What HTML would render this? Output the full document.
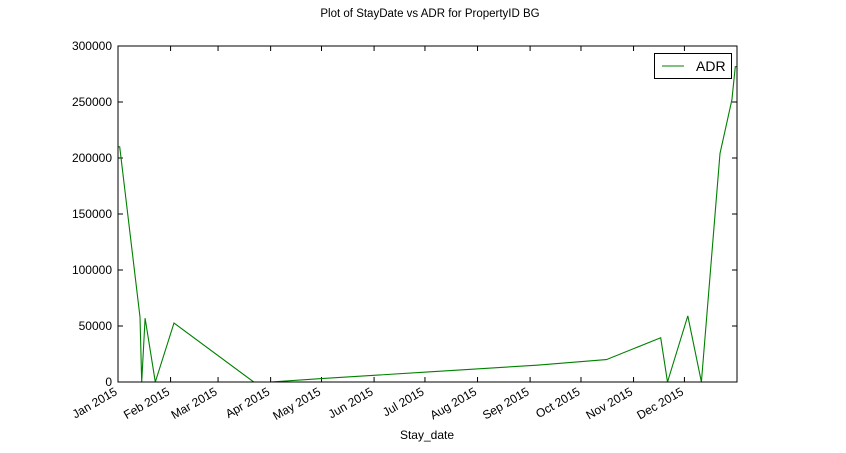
<!DOCTYPE html>
<html><head><meta charset="utf-8"><style>
body{margin:0;background:#fff;}
svg{font-family:"Liberation Sans",sans-serif;display:block}
</style></head><body>
<svg id="chart" width="846" height="453">
<text x="430" y="17" font-size="11.5" text-anchor="middle">Plot of StayDate vs ADR for PropertyID BG</text>
<text x="427" y="439" font-size="12" text-anchor="middle">Stay_date</text>
<g id="axes"></g>
<path id="line" fill="none" stroke="#008000" stroke-width="1.1"></path>
<rect x="118" y="46" width="619" height="336" fill="none" stroke="#000" stroke-width="1"></rect>
<g>
<rect x="654.5" y="53.5" width="77" height="25" fill="#fff" stroke="#000"></rect>
<line x1="662" y1="66" x2="684" y2="66" stroke="#008000" stroke-width="1.1"></line>
<text x="696" y="71" font-size="14">ADR</text>
</g>
</svg>
<script>
const dates = ["2015-01-01","2015-01-02","2015-01-14","2015-01-15","2015-01-17","2015-01-23","2015-02-03","2015-03-22","2015-04-01","2015-05-01","2015-07-03","2015-09-05","2015-10-16","2015-11-17","2015-11-21","2015-12-03","2015-12-11","2015-12-22","2015-12-29","2015-12-31","2016-01-01"];
const adr = [210000,210000,58000,0,57000,0,52700,0,0,3000,9000,15000,20000,39500,0,59000,0,204000,252000,281500,281500];
const yTicks = [0,50000,100000,150000,200000,250000,300000];
const xTickLabels = ["Jan 2015","Feb 2015","Mar 2015","Apr 2015","May 2015","Jun 2015","Jul 2015","Aug 2015","Sep 2015","Oct 2015","Nov 2015","Dec 2015"];
const t0 = Date.UTC(2015,0,1), t1 = Date.UTC(2016,0,1);
const L=118,R=737,T=46,B=382;
function xs(d){const t=Date.parse(d+"T00:00:00Z");return L+(t-t0)/(t1-t0)*(R-L);}
function ys(v){return B-v/300000*(B-T);}
const ns="http://www.w3.org/2000/svg";
const g=document.getElementById('axes');
function mk(tag,attrs){const e=document.createElementNS(ns,tag);for(const k in attrs)e.setAttribute(k,attrs[k]);g.appendChild(e);return e;}
yTicks.forEach(v=>{
  const y=ys(v);
  const a=mk('line',{x1:L,x2:L+5,y1:y,y2:y,stroke:'#000'});
  
  
  const b=mk('line',{x1:R-5,x2:R,y1:y,y2:y,stroke:'#000'});
  
  
  const t=mk('text',{x:L-6,y:y+4,'font-size':12,'text-anchor':'end'});
  t.textContent=v;
  
  
});
xTickLabels.forEach((lab,i)=>{
  const x=L+(Date.UTC(2015,i,1)-t0)/(t1-t0)*(R-L);
  const a=mk('line',{x1:x,x2:x,y1:B-5,y2:B,stroke:'#000'});
  
  
  const b=mk('line',{x1:x,x2:x,y1:T,y2:T+5,stroke:'#000'});
  
  
  const t=mk('text',{x:x,y:B+12,'font-size':12,'text-anchor':'end',transform:`rotate(-30 ${x} ${B+12})`});
  t.textContent=lab;
  
  
});
document.getElementById('line').setAttribute('d',dates.map((d,i)=>(i?'L':'M')+xs(d).toFixed(1)+' '+ys(adr[i]).toFixed(1)).join(' '));
</script>
</body></html>
